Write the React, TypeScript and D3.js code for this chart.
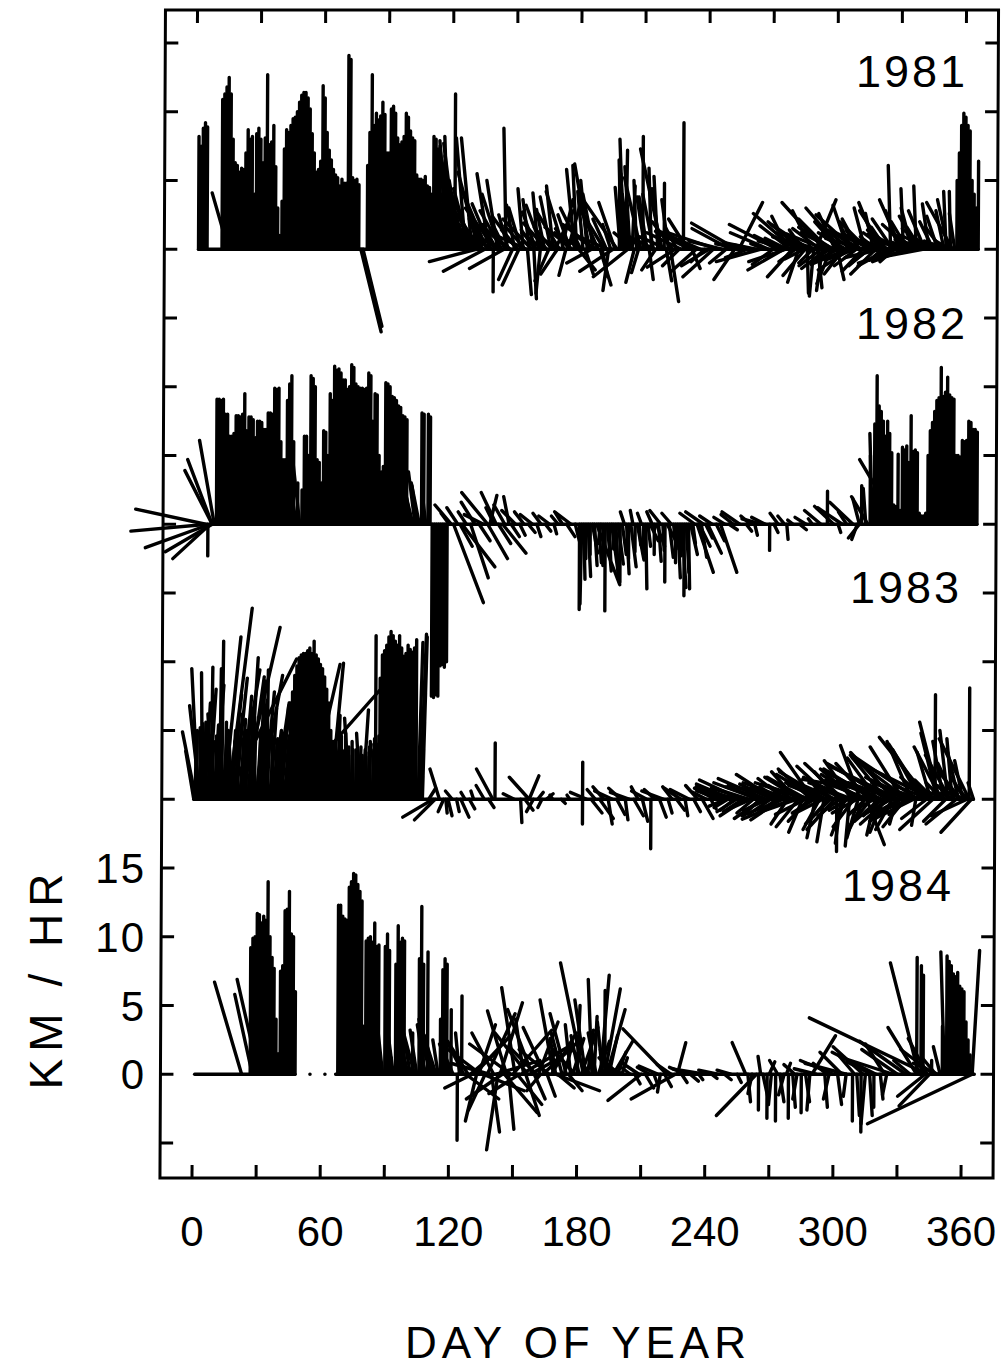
import React from 'react';
import * as d3 from 'd3';

type Stick = [number, number, number]; // [day of year, east km/hr, north km/hr]

const STICKS_1981: Stick[] = [
[1,0,8.2],[2,0,7.5],[3,0,8.8],[4,0,9.2],[5,0,8.9],
[12,0,10.9],[13,0,11.3],[14,0,11.8],[15,0,12.5],[15,-1.2,4.1],[16,0,11.3],[17,0,8.0],[18,0,6.3],[19,0,6.1],[20,0,5.6],[21,0,5.9],[22,0,5.8],[23,0,7.0],[24,0,8.7],[25,0,8.0],[26,0,8.2],[27,0,4.0],[28,0,8.4],[29,0,8.8],[30,0,8.0],[31,0,6.3],[32,0,8.1],[33,0,12.7],[34,0,7.6],[35,0,7.8],[36,0,9.0],[37,0,6.0],[38,0,3.0],[39,0,1.0],[40,0,3.5],[41,0,7.3],[42,0,8.7],[43,0,8.5],[44,0,9.0],[45,0,9.5],[46,0,9.6],[47,0,10.0],[48,0,10.7],[49,0,11.2],[50,0,11.4],[51,0,11.4],[52,0,11.0],[53,0,10.2],[54,0,8.4],[55,0,7.0],[56,0,5.6],[57,0,5.8],[58,0,6.4],[59,0,11.9],[60,0,11.0],[61,0,8.5],[62,0,7.2],[63,0,6.5],[64,0,5.8],[65,0,5.4],[66,0,5.2],[67,0,4.6],[68,0,5.1],[69,0,4.8],[70,0,4.8],[71,0,14.1],[72,0,13.8],[73,0,5.2],[74,0,5.0],[75,0,5.1],[76,0,4.7],[77,1.5,-6.0],[78,1.4,-5.6],
[80,0,6.1],[81,0,8.5],[82,0,12.7],[83,0,9.0],[84,0,9.9],[85,0,9.4],[86,0,9.7],[87,0,10.7],[88,0,9.8],[89,0,7.0],[90,0,7.0],[91,0,10.2],[92,0,10.4],[93,0,9.9],[94,0,8.1],[95,0,7.6],[96,0,7.8],[97,0,8.2],[98,0,9.9],[99,0,9.6],[100,0,8.6],[101,0,8.1],[102,0,7.9],[103,0,5.4],[104,0,5.1],[105,0,5.1],[106,0,5.0],[107,0,5.3],[108,0,4.6],[109,0,4.5],[110,0,4.0],[111,0,8.2],[112,0,8.0],[113,0,7.3],[114,0,7.1],
[115,-0.4,5.5],[116,-0.6,6.2],[117,-0.5,7.9],[118,-0.3,8.2],[119,-0.8,7.5],[120,-0.6,6.8],[121,0,11.3],[122,-1.0,7.7],[123,-1.3,6.5],[124,-0.9,5.0],[125,-1.6,6.0],[126,-0.7,8.1],[127,-1.9,5.2],[128,-1.2,4.4],[129,-0.8,8.1],[130,-2.0,4.8],[131,-3.4,-0.9],[132,-1.5,5.6],[133,-2.6,3.8],[134,-1.1,3.0],[135,-3.0,-1.6],[136,-1.8,4.2],[137,-0.9,5.5],[138,-1.4,3.3],[139,0,-3.1],[140,-2.2,3.0],[141,-0.8,5.0],[142,-1.3,4.0],[143,-1.6,2.8],[144,-2.5,-1.4],[145,-0.2,8.8],[146,-0.7,2.5],[147,-2.2,1.8],[148,-1.0,-2.2],[149,-0.6,3.2],[150,-1.8,2.4],[151,-1.2,-2.6],[152,-0.9,3.0],[153,-0.4,4.4],[154,-1.5,1.7],[155,0.3,-3.3],[156,-0.5,3.6],[157,-2.1,2.2],[158,0.2,-3.6],[159,-1.0,2.7],[160,-0.4,4.1],[161,-0.3,-3.2],[162,-1.2,3.2],[163,-0.6,2.9],[164,-1.7,1.9],[165,-1.0,-2.3],[166,-0.8,3.8],[167,-0.5,4.6],[168,1.3,2.8],[169,-1.2,-1.8],[170,-1.6,2.6],[171,0.8,3.6],[172,-1.3,4.2],[173,-0.5,-1.9],[174,1.0,3.8],[175,-0.9,2.5],[176,-2.0,1.6],[177,-0.6,5.8],[178,-0.3,6.1],[179,1.2,-1.5],[180,-1.5,3.0],[181,-0.4,4.2],[182,0.6,-1.8],[183,-0.5,5.0],[184,-1.1,6.2],[185,-1.8,-1.0],[186,-0.8,4.0],[187,-2.4,1.8],[188,-1.3,3.0],[189,0.8,-2.6],[190,0.4,-2.0],[191,-1.6,2.6],[192,-1.0,2.2],[193,-0.4,-3.0],[194,-0.6,1.8],[195,-2.4,-1.6],[196,-1.2,3.4],[197,-2.7,3.9],
[115.5,-0.5,3.6],[116.5,-0.8,4.2],[117.5,-0.4,3.0],[118.5,-1.0,4.8],[119.5,-0.6,3.4],[120.5,-0.9,4.0],[121.5,-1.1,3.2],[122.5,-0.7,2.6],[123.5,-1.4,3.8],[124.5,-0.5,2.4],[125.5,-1.2,3.0],[126.5,-0.8,2.2],[127.5,-1.5,2.8],[128.5,-0.6,2.0],[129.5,-1.8,2.6],[130.5,-1.0,1.8],[131.5,-1.4,2.4],[132.5,-2.0,1.6],[133.5,-0.9,2.2],[134.5,-1.6,1.4],[136.5,-1.2,2.0],[138.5,-2.0,1.2],[140.5,-1.0,1.8],[142.5,-1.8,1.0],[144.5,-0.8,1.6],[146.5,-1.5,1.2],[150.5,-1.2,1.4],[154.5,-2.2,1.0],[158.5,-1.0,1.4],[162.5,-1.6,1.2],[166.5,-1.3,1.6],[170.5,-1.8,1.0],[174.5,-1.0,1.5],[180.5,-2.0,1.2],[186.5,-1.4,1.0],[192.5,-1.8,0.8],
[198,0,5.8],[198.5,-0.4,4.5],[199,-0.2,6.5],[200,-0.3,8.0],[200.5,-0.3,5.5],[201,0.1,7.2],[202,-2.5,-2.0],[202.5,-0.5,4.0],[203,-0.4,6.0],[204,0.2,4.6],[204.5,-1.4,1.2],[205,-0.6,-2.4],[206,-0.2,5.0],[207,-0.5,-1.7],[208,-1.2,5.2],[208.5,-1.0,1.0],[209,0,8.2],[210,-0.6,3.8],[211,-0.6,3.8],[212,0.3,-2.2],[213,-0.2,5.9],[214,-0.8,4.0],[214.5,-1.6,0.8],[215,-1.0,-1.5],[216,-0.3,5.3],[217,-0.6,4.4],[218,-1.6,7.3],[219,0,4.8],[220,0.4,-2.3],[220.5,-2.0,0.9],[221,-0.5,3.6],[222,0.6,-3.8],[223,-1.5,2.0],[224,-2.0,-1.3],[225,-0.8,1.5],[226,-1.2,-1.2],[227,-2.5,1.2],[228,0,9.2],
[230,-1.4,2.2],[231,-2.5,1.3],[232,0.6,-1.4],[233,-1.6,0.8],[234,-1.8,-1.6],[236,-3.2,1.4],[238,-1.0,-0.9],[240,-2.0,-1.2],[242,-2.2,-2.0],[244,-3.6,1.2],[246,-2.4,0.6],[248,-1.2,-1.0],[250,-2.8,1.5],[252,-1.5,-2.2],[253,-3.3,1.9],[254,1.7,3.4],[256,-2.0,0.4],[258,-1.6,-0.6],[260,-1.2,0.3],[262,-2.4,0.5],[264,-3.2,-0.9],[266,-1.0,0.4],[268,-2.8,1.2],[270,-1.5,-1.1],[272,-3.5,1.8],[274,-2.0,1.0],[275,-2.6,-1.5],[276,-2.7,-0.9],[277,-1.2,2.4],[278,-2.2,1.7],[279,-1.8,-2.0],[280,-3.0,2.6],[281,-1.5,1.2],[282,-0.8,-2.4],[283,-2.4,2.0],[284,-1.0,1.4],[285,-1.6,-1.9],[286,0.1,-3.2],[287,-2.8,1.8],[288,-1.4,2.8],[289,-0.3,-3.4],[290,1.45,3.6],[291,0.3,-2.8],[292,-2.0,1.5],[293,-0.4,-3.0],[294,-3.1,3.4],[295,-1.8,-1.4],[296,-2.2,2.2],[297,-1.0,-2.5],[298,-2.5,1.6],[299,-1.2,2.6],[300,0.5,-2.2],[301,-1.8,2.0],[302,-2.6,3.0],[303,-1.4,-1.8],[304,-2.0,1.2],[305,-1.1,3.2],[306,-2.3,-1.5],[307,-0.9,1.8],[308,-2.8,2.5],[309,-1.6,-1.2],[310,-1.2,2.2],[311,-2.4,1.4],[312,-1.5,-1.6],[313,-0.8,3.0],[314,-2.0,2.0],[315,-1.3,-1.0],[316,-2.6,1.2],[317,-0.6,2.6],[318,-1.8,-1.8],[319,-1.4,3.4],[320,-2.4,1.0],[321,-0.9,-0.8],[322,-1.8,2.8],[323,-1.1,1.6],[324,-2.2,-1.2],[325,-0.2,6.1],[326,-1.5,2.2],[327,-2.0,1.4],[328,-2.8,-1.0],[329,-1.0,2.8],[330,-1.6,3.6],[331,-0.2,4.4],[332,-2.4,-0.9],[333,-1.2,2.0],[334,-2.0,1.8],[335,-0.8,3.0],[336,-3.0,-0.7],[337,-0.2,4.6],[338,-1.4,2.4],[339,-1.0,1.6],[340,-2.6,-0.5],[341,-1.2,2.8],[342,-1.8,1.5],[343,-0.5,3.3],[344,-2.2,1.0],[345,-1.0,2.0],[346,-1.5,0.8],[347,-0.8,2.4],[348,-2.0,0.6],[349,-1.2,1.6],[350,-0.6,2.8],[351,-0.2,4.2],[352,-0.8,3.6],[353,-0.1,4.2],[354,-1.9,3.4],[355,-0.4,2.6],
[276.5,-1.6,0.8],[278.5,-2.4,0.6],[280.5,-1.2,-0.9],[282.5,-2.0,1.0],[284.5,-1.4,-0.7],[286.5,-2.6,0.9],[288.5,-1.0,-1.0],[290.5,-2.2,0.7],[292.5,-1.6,-1.2],[294.5,-2.8,1.1],[296.5,-1.2,-0.8],[298.5,-2.4,1.2],[300.5,-1.8,-0.9],[302.5,-1.4,1.0],[304.5,-2.6,-1.1],[306.5,-1.6,1.2],[308.5,-2.2,-0.8],[310.5,-1.0,1.4],[312.5,-2.8,0.8],[314.5,-1.4,-1.2],[316.5,-2.0,1.0],[318.5,-1.2,0.9],[320.5,-2.6,-0.6],[322.5,-1.6,1.2],[324.5,-2.4,0.7],[326.5,-1.0,-0.9],[328.5,-2.2,1.1],[330.5,-1.8,0.8],[332.5,-1.2,1.3],[334.5,-2.6,0.6],[336.5,-1.4,1.0],[338.5,-2.0,0.5],[340.5,-1.2,1.1],[342.5,-2.4,0.7],[344.5,-1.6,0.5],[346.5,-2.8,0.4],[348.5,-1.2,0.6],[350.5,-2.0,0.3],[352.5,-1.0,0.6],[354.5,-1.6,0.4],
[356,0,5.0],[357,0,7.0],[358,0,9.0],[359,0,9.9],[360,0,9.6],[361,0,9.0],[362,0,8.6],[363,0,5.0],[364,0,4.0],[365,0,3.0],[366,0,6.4]
];

const STICKS_1982: Stick[] = [
[5,-5.1,1.1],[6,-5.6,-0.5],[6,0,-2.3],[7,-4.7,-1.7],[7,-2.7,-2.5],[8,-3.4,-2.0],[8,-2.0,3.9],[8,-1.8,4.7],[9,-1.1,6.1],
[10,0,9.1],[11,0,9.1],[12,0,9.0],[13,0,9.1],[14,0,8.0],[15,0,8.0],[16,0,6.4],[17,0,6.4],[18,0,6.6],[19,0,7.9],[20,0,7.9],[21,0,7.8],[22,0,8.0],[23,0,9.5],[24,0,6.8],[25,0,7.8],[26,0,7.8],[27,0,7.6],[28,0,6.3],[29,0,7.5],[30,0,7.5],[31,0,7.4],[32,0,6.9],[33,0,6.9],[34,0,8.1],[35,0,8.1],[36,0,8.0],[37,0,9.9],[38,0,9.8],[39,0,9.9],[40,0,6.0],[41,0,4.7],[42,0,4.7],[43,0,9.0],[44,0,10.2],[45,0,10.8],[46,0,6.0],[47,-0.4,4.2],[48,0,3.0],[49,-0.5,4.4],[50,0,2.5],[51,0,6.4],[52,0,6.4],[53,0,5.0],[54,0,10.8],[55,0,10.6],[56,0,10.0],[57,0,4.7],[58,0,4.5],[59,0,3.0],[60,0,6.8],[61,0,6.7],[62,0,5.0],[63,0,9.5],[64,0,9.0],[65,0,11.5],[66,0,11.2],[67,0,11.3],[68,0,11.0],[69,0,10.5],[70,0,10.5],[71,0,9.8],[72,0,10.0],[73,0,11.6],[74,0,11.4],[75,0,10.2],[76,0,10.0],[77,0,9.9],[78,0,9.9],[79,0,9.8],[80,0,9.9],[81,0,11.0],[82,0,10.8],[83,0,7.5],[84,0,9.5],[85,0,9.4],[86,0,5.0],[87,0,3.8],[88,0,4.2],[89,0,10.3],[90,0,10.2],[91,0,10.0],[92,0,9.3],[93,0,9.2],[94,0,9.0],[95,0,8.6],[96,0,8.5],[97,0,7.9],[98,0,7.8],[99,0,7.6],[100,-0.5,3.5],[101,-0.6,3.6],[102,-0.8,3.2],[103,-0.5,3.8],[104,-0.4,2.8],[105,-0.6,3.0],[106,0,8.1],[107,0,8.0],[108,-0.3,2.5],[109,0,8.0],[110,0,7.8],
[111,0,-12.5],[112,0,-12.6],[113,0,-12.4],[114,0,-12.5],[115,0,-10.3],[116,0,-10.2],[117,0,-10.4],[118,0,-10.0],[119,-0.6,0.8],
[120,-1.2,1.4],[121,2.2,-5.7],[123,-0.8,1.2],[124,0.9,-1.6],[125,2.4,-3.1],[127,-0.6,0.9],[129,1.3,-3.9],[131,-1.0,1.6],[133,0.8,-1.2],[135,-1.4,0.7],[137,-1.9,2.3],[137,1.45,-2.5],[138,0.5,2.1],[140,-0.6,1.2],[141,-1.1,2.3],[142,0.9,-1.4],[144,1.7,-2.1],[145,-0.8,1.4],[147,-0.4,2.0],[148,0.6,-0.9],[150,-1.0,1.0],[152,0.4,-0.8],[154,-0.7,0.9],[156,0.5,-0.6],[158,-0.9,0.7],[160,0.3,-0.9],[162,-0.6,0.8],[164,0.4,-0.5],[166,-0.8,0.6],[168,0.2,-0.7],[170,-0.5,0.6],
[172,-0.5,0.8],[174,0.6,-0.9],[176,-1.2,0.9],[178,0.3,-1.2],[180,0,-6.2],[181,-0.1,-5.8],[182,0.1,-4.0],[183,0,-2.5],[184,0.2,-3.8],[185,0,-2.2],[186,0.4,-2.1],[187,0.2,-3.0],[188,1.7,-4.4],[189,0.2,-2.8],[190,-0.2,-1.4],[191,0,-3.0],[192,0,-6.3],[193,0.3,-3.4],[194,0.1,-2.6],[195,0.6,-4.3],[196,0,-1.8],[197,0.2,-3.9],[198,0.4,-2.9],[199,0,-4.2],[200,0.3,-2.2],[201,-0.3,0.9],[202,0.2,-3.6],[203,0,-2.5],[204,0.4,-3.1],[205,-0.2,1.0],[206,0,-2.0],[207,0.5,-2.6],[208,0.1,-1.5],[209,-0.3,0.8],[210,0,-2.2],[211,0.1,-4.7],[212,0.2,-1.6],[213,0.6,-1.2],[214,-0.4,0.9],[215,0,-2.2],[216,0.6,-1.6],[217,0.2,-2.7],[218,-0.8,1.0],[219,0.1,-1.9],[220,0,-4.2],[221,0.9,-1.7],[222,0.3,-2.4],[223,-0.7,0.8],[224,0.2,-1.8],[225,0,-2.8],[226,0.2,-3.9],[227,0.1,-2.3],[228,0.3,-4.6],[229,0,-5.2],[230,0.2,-3.5],[231,0.1,-4.7],[232,0.5,-2.2],[233,0.2,-1.4],[234,-1.1,0.8],[235,1.2,-3.5],[236,0.8,-1.6],[237,0.4,-2.4],[238,-1.3,0.9],[239,0.5,-1.0],[240,1.0,-2.1],[242,-0.9,0.6],[244,0.6,-1.2],[246,1.2,-3.5],
[248,-0.8,0.5],[250,0.6,-0.4],[252,-0.9,0.7],[255,-1.3,0.9],[258,0.4,-0.5],[260,-0.7,0.6],[262,0.2,-0.8],[265,-1.4,0.4],[267,-1.0,0.5],[269,0,-1.9],[271,0.3,-0.6],[273,-0.6,0.8],[276,-0.5,0.6],[277,0.1,-1.1],[280,-0.4,0.3],[283,0.5,-0.4],[286,-0.8,0.5],[289,-0.3,0.4],[293,-1.2,1.0],[296,0,2.4],[299,-1.4,1.3],[301,0.2,-0.6],[303,-1.8,1.2],[305,-0.6,0.9],[308,-1.7,1.6],[310,-0.4,-1.1],[311,-0.5,1.9],[311,-0.8,-1.0],[312,0,2.8],[314,-0.2,2.6],[315,-1.2,2.0],
[316,0,5.0],[317,-0.2,6.6],[318,0,7.3],[319,0,10.8],[320,0,8.6],[321,0,8.2],[322,0,7.5],[323,0,6.4],[324,0,7.5],[325,0,6.6],[326,0,5.2],[327,0,1.4],[328,0,1.3],[329,0,5.1],[329,-2.8,4.7],[330,0,1.0],[331,0,5.6],[332,0,5.4],[333,0,5.7],[334,0,4.5],[335,0,7.9],[336,0,5.3],[337,0,5.4],[338,0,5.2],[339,0,0.8],[340,0,0.6],[341,0,0.6],[342,0,0.8],[343,0,5.0],[344,0,6.8],[345,0,7.4],[346,0,8.2],[347,0,9.0],[348,0,9.2],[349,0,11.4],[350,0,9.3],[351,0,9.6],[352,0,10.7],[353,0,9.4],[354,0,9.2],[355,0,9.1],[356,0,5.0],[357,0,5.0],[358,0,4.9],[359,0,6.1],[360,0,6.0],[361,0,6.1],[362,0,7.5],[363,0,7.4],[364,0,6.9],[365,0,6.9],[366,0,6.7]
];

const STICKS_1983: Stick[] = [
[0,-0.6,3.5],[1,-1.0,4.9],[2,-0.5,9.5],[3,-0.8,6.8],[4,-0.1,9.2],[5,0.4,7.0],[6,-0.3,5.5],[7,0.5,8.0],[8,0.1,9.6],[9,-0.4,6.2],[10,0.6,8.3],[11,0.2,5.0],[12,0.1,9.5],[13,0.1,11.5],[14,1.2,11.8],[15,5.1,10.2],[16,1.7,13.9],[17,0.8,7.6],[18,-0.3,5.0],[19,0.9,8.8],[20,0.4,6.2],[21,1.5,9.4],[22,2.8,12.5],[23,0.6,7.5],[24,0.3,5.8],[25,1.2,8.9],[26,0.6,10.3],[27,0.2,6.0],[28,-0.4,4.2],[29,0.8,7.2],[30,0.5,8.6],[31,1.6,9.0],[32,0.3,6.4],[33,0.7,7.8],[34,0.1,9.4],[35,2.2,8.4],[36,0.4,6.6],[37,0.6,5.0],[38,1.0,7.0],[39,0.2,4.4],[40,3.0,8.5],[41,0.5,6.8],[42,7.2,8.2],[43,0.4,5.6],[44,0.8,6.2],
[0.5,0.1,4.2],[1.5,0,5.0],[2.5,0.2,4.4],[3.5,-0.1,5.2],[4.5,0.1,4.0],[5.5,0,5.6],[6.5,0.2,4.6],[7.5,-0.2,5.0],[8.5,0.1,4.2],[9.5,0.3,5.4],[10.5,0,4.6],[11.5,0.2,4.0],[12.5,0,5.2],[13.5,0.3,4.4],[14.5,0.1,5.6],[15.5,0.2,4.8],[16.5,0,4.0],[17.5,0.3,5.0],[18.5,0.1,4.2],[19.5,0.2,5.4],[20.5,0,4.6],[21.5,0.4,5.8],[22.5,0.1,4.4],[23.5,0.2,5.0],[24.5,0,4.0],[25.5,0.3,5.6],[26.5,0.1,4.8],[27.5,0.2,4.2],[28.5,0,3.8],[29.5,0.3,5.0],[30.5,0.1,4.6],[31.5,0.2,5.2],[32.5,0,4.4],[33.5,0.2,5.0],[34.5,0.1,4.8],[35.5,0.3,4.2],[36.5,0,4.6],[37.5,0.2,3.8],[38.5,0.1,4.4],[39.5,0.3,3.6],[40.5,0.2,4.8],[41.5,0,4.2],[42.5,0.3,4.6],[43.5,0.1,3.8],[44.5,0.2,5.0],
[45,0,7.0],[46,0,7.8],[47,0,9.0],[48,0,9.7],[49,0,10.3],[50,0,10.5],[51,0,10.6],[52,0,10.6],[53,0,10.8],[54,0,11.0],[54,2.2,9.8],[55,0,10.6],[56,0,11.5],[57,0,10.5],[58,0,10.2],[59,0,9.8],[60,0,9.5],[61,0,8.9],[62,0,8.0],[63,0,7.0],[64,0,5.0],[64,0.9,9.9],
[66,0,4.0],[67,0.2,6.1],[68,-0.2,3.0],[69,0,4.6],[70,0.3,3.2],[71,0,4.8],[72,-0.3,3.5],[73,-0.4,5.9],[74,0,4.2],[75,0.5,2.8],[76,0,3.6],[77,0.2,2.6],[78,-0.3,4.8],[79,0.4,6.5],[80,0,3.2],[81,0.3,4.0],[82,0,3.1],[83,0.8,5.2],[84,0.2,3.4],[85,0,11.9],[86,0.3,4.4],[87,0,8.8],[88,0,10.5],
[64.5,0.1,3.8],[65,0,4.2],[65.5,0.1,3.6],[66.5,0,3.4],[67.5,0.1,3.8],[68.5,0,3.2],[69.5,0.2,3.6],[70.5,0,3.0],[71.5,0.1,3.4],[72.5,0,3.8],[73.5,0.1,3.2],[74.5,0,3.6],[75.5,0.1,3.0],[76.5,0,3.4],[77.5,0.1,3.8],[78.5,0,3.2],[79.5,0.1,3.6],[80.5,0,3.4],[81.5,0.1,3.8],[82.5,0,4.2],[83.5,0.1,3.6],[84.5,0,4.4],[85.5,0.1,4.0],[86.5,0,4.6],[87.5,0,5.2],
[89,0,10.8],[90,0,11.2],[91,0,11.8],[92,0,12.2],[93,0,11.9],[94,0,11.5],[95,0,11.2],[96,0,11.9],[97,0,11.0],[98,0,10.4],[99,0,10.6],[100,0,11.2],[101,0,10.9],[102,0,10.7],[103,0,11.0],[104,0,11.6],[105,0.3,11.4],[106,0.4,12.0],[107,0.3,11.8],
[110,0.5,0.8],[112,-2.2,-1.3],[113,-1.5,-1.5],[115,-0.7,2.2],[117,-0.4,-0.9],[118,0.1,-1.0],[119,0.3,-1.2],[121,-0.5,0.6],[123,0.2,-0.9],[125,0.6,-1.3],[127,-0.3,0.5],[129,0.4,-0.7],[131,-0.2,0.6],[136,-0.6,1.0],[138,0.4,-0.6],[140,-1.2,2.2],[141,0,4.1],[150,-0.8,0.4],[153,0.1,-1.7],[155,0.6,-0.8],[157,-1.45,1.6],[157,0.7,1.7],[159,-0.5,-0.9],[161,0.4,0.5],[163,-0.3,-0.6],[165,0.5,0.4],[168,-0.2,0.3],[172,0.3,-0.3],[176,-0.2,0.3],
[182,0,2.7],[182,0,-1.8],[184,-1.2,0.5],[186,0.8,-1.0],[188,-0.6,0.7],[190,1.0,-1.4],[192,-0.8,0.9],[194,0.3,-1.8],[196,-1.3,0.6],[198,0.6,-1.1],[200,-0.9,0.8],[202,0.2,-1.5],[204,-1.4,0.5],[206,0.7,-1.2],[208,-0.5,0.9],[210,0.4,-1.6],[212,-1.1,0.6],[214,0,-3.6],[216,-0.8,0.7],[218,0.5,-1.3],[220,-1.6,0.6],[222,0.3,-1.0],[224,-0.7,0.9],[226,0.6,-0.8],[228,-1.2,0.8],[230,0.2,-1.2],[232,-1.4,0.7],[234,0.5,-0.9],[236,-0.9,1.0],[238,0.8,-1.4],[240,-1.0,0.5],[242,0.4,-0.7],[244,-1.5,0.8],
[246,-1.2,0.5],[248,-2.0,0.9],[250,-1.0,-0.6],[252,-2.6,1.1],[254,-1.4,-0.9],[256,-3.0,1.4],[258,-1.8,-1.2],[260,-2.5,0.8],[262,-1.2,-1.0],[264,-3.2,1.2],[266,-2.0,-1.4],[268,-3.5,1.5],[270,-1.6,-1.1],[272,-2.8,1.8],[274,-1.4,0.9],[275,-2.2,-1.5],[276,-3.0,-1.2],[277,-2.0,1.5],[278,-1.2,-1.8],[279,-3.4,1.2],[280,-3.6,-1.45],[281,-4.1,0.85],[282,-1.8,2.0],[283,-1.6,-2.0],[284,-2.6,1.6],[285,-1.0,-2.4],[286,-3.6,1.2],[287,-2.9,1.6],[288,-1.5,-1.6],[289,-2.4,2.2],[290,-2.4,3.4],[291,-0.6,-2.8],[292,-3.0,1.8],[293,-1.2,-2.2],[294,-2.2,1.4],[295,-0.5,-3.1],[296,-3.4,2.0],[297,-1.4,-1.6],[298,-1.8,-1.8],[299,-2.6,2.4],[300,-2.0,-2.2],[301,0,-3.8],[302,-1.8,2.0],[303,-0.4,-3.2],[304,-2.8,2.6],[305,-1.0,-2.6],[306,-3.2,1.6],[307,-0.3,-3.4],[308,-2.0,2.8],[309,-1.5,-2.0],[310,-2.6,2.2],[311,-0.8,-2.8],[312,-1.45,3.9],[313,-3.0,1.8],[314,-1.2,-2.4],[315,1.3,-3.3],[316,-2.4,2.6],[317,-1.6,-2.0],[318,-3.6,2.2],[319,-0.6,-2.6],[320,-2.2,3.0],[321,-1.8,-1.6],[322,-4.2,2.0],[323,-1.0,-2.4],[324,-2.6,3.2],[325,-2.0,-1.8],[326,-4.6,2.6],[327,-1.2,-2.2],[328,-3.2,3.4],[329,-0.5,-1.8],[330,-5.0,2.4],[331,-2.2,-1.5],[332,-2.4,3.8],[333,-1.6,-2.0],[334,-4.0,3.0],[335,-2.8,-1.2],[336,-1.8,4.2],[337,-3.2,-1.6],[338,-0.3,-1.9],[339,-4.8,3.2],[340,-2.0,3.6],[341,-8.7,1.45],[342,-2.6,4.0],[343,-1.8,-1.4],[344,-3.6,4.5],[345,-1.0,3.4],[346,-5.1,2.5],[346,-2.4,-2.2],[347,0,7.6],[348,-1.2,4.8],[349,-1.45,5.6],[350,-2.0,3.8],[351,-0.8,4.2],[352,-1.6,-1.6],[353,-0.6,5.0],[354,-1.8,3.2],[355,-0.4,4.4],[356,-1.2,2.6],[357,-2.2,-1.8],[358,-0.8,3.4],[359,-1.6,2.0],[360,-0.6,2.8],[361,-1.0,1.6],[362,-2.6,-1.2],[363,0,8.1],[363,-2.2,4.4],[364,-2.2,-2.4],[365,-0.4,1.2],
[247,-1.8,0.6],[249,-1.2,-0.5],[251,-2.2,0.7],[253,-1.0,-0.8],[255,-2.4,0.6],[257,-1.4,-0.9],[259,-2.6,0.8],[261,-1.6,-0.7],[263,-2.0,1.0],[265,-1.2,-1.2],[267,-2.8,0.9],[269,-1.8,-0.8],[271,-2.4,1.1],[273,-1.4,-1.0],[276.5,-2.4,0.9],[278.5,-2.8,0.7],[280.5,-1.8,1.0],[282.5,-2.6,-0.9],[284.5,-1.4,0.8],[286.5,-2.2,-1.1],[288.5,-3.0,0.9],[290.5,-1.6,-1.0],[292.5,-2.4,1.2],[294.5,-1.8,-0.9],[296.5,-2.8,1.0],[298.5,-1.2,0.8],[300.5,-2.6,1.1],[302.5,-1.6,-1.2],[304.5,-2.2,1.0],[306.5,-1.4,-0.8],[308.5,-3.2,1.2],[310.5,-1.8,-1.0],[312.5,-2.6,1.4],[314.5,-1.2,-1.1],[316.5,-2.8,1.0],[318.5,-1.6,-0.9],[320.5,-3.0,1.3],[322.5,-1.4,-1.2],[324.5,-2.4,1.5],[326.5,-1.8,-1.0],[328.5,-3.4,1.2],[330.5,-1.6,-0.9],[332.5,-2.8,1.6],[334.5,-1.4,-1.1],[336.5,-3.0,1.4],[338.5,-2.2,0.8],[340.5,-3.6,1.2],[342.5,-1.8,1.6],[344.5,-2.6,1.0],[346.5,-1.4,1.4],[348.5,-2.2,0.9],[350.5,-1.2,1.2],[352.5,-1.8,0.7],[354.5,-1.0,1.0],[356.5,-1.6,0.6],[358.5,-0.8,0.9],[360.5,-1.2,0.5],[362.5,-0.6,0.6]
];

const STICKS_1984: Stick[] = [
[23,-2.0,6.7],[28,-1.3,5.8],[31,-1.6,6.9],
[27,0,9.2],[28,0,9.9],[29,0,10.0],[30,0,11.7],[31,0,11.6],[32,0,11.0],[33,0,11.5],[34,0,11.2],[35,0,14.0],[36,0,10.0],[37,0,8.5],[38,0,7.7],[39,0,4.0],[40,0,1.5],[41,0,7.5],[42,0,7.9],[43,0,11.9],[44,0,12.0],[45,0,13.3],[46,0,10.2],[47,0,10.0],[48,0,6.0],
[68,0,12.3],[69,0,12.3],[70,0,11.5],[71,0,11.3],[72,0,11.2],[73,0,13.6],[74,0,14.0],[75,0,14.6],[76,0,14.5],[77,0,13.8],[78,0,13.3],[79,0,12.6],[80,0,3.5],[81,0,9.7],[82,0,9.9],[83,0,10.0],[84,0,9.6],[85,0,11.0],[86,0,9.3],[87,0,9.4],[88,-0.3,3.0],[89,-0.5,4.5],[90,0,9.3],[91,0,10.2],[92,0,9.0],[93,0,1.2],[94,-0.4,3.0],[95,0,8.0],[96,0,10.8],[97,0,9.6],[98,0,9.9],[99,0,9.7],[100,-0.6,4.2],[101,-0.9,3.6],[102,-0.7,4.0],[103,0,3.0],[104,-1.2,4.4],[105,-0.5,3.2],[106,0,8.4],[107,0,12.2],[108,0,8.0],[109,-0.6,3.6],[110,0,8.9],[111,-0.8,4.0],[112,-1.0,3.5],[113,-0.7,2.8],[114,-1.2,3.8],[115,-0.4,2.5],[116,0,4.0],[117,0,7.6],[118,0,8.4],[119,0,8.0],[120,-0.5,3.2],[121,0,4.7],[122,-1.0,2.2],[124,0,-4.8],[125,-0.3,3.0],[126,0,5.7],[127,-1.3,2.5],
[128,2.4,-1.8],[129,-1.5,2.4],[130,1.8,1.5],[131,-2.0,-1.0],[132,2.6,2.8],[133,-0.8,-3.4],[134,1.2,3.6],[135,-2.4,1.8],[136,3.0,-1.2],[137,-1.2,-2.6],[138,2.0,4.4],[139,-2.8,0.8],[140,0.6,-4.2],[141,-1.6,3.0],[142,3.2,1.0],[143,-0.8,-5.5],[144,1.6,5.2],[145,-2.6,-1.8],[146,2.4,-2.8],[147,-1.4,4.6],[148,0.4,-4.0],[149,-3.0,2.2],[150,2.8,3.2],[151,-1.0,6.3],[152,1.8,-2.2],[153,-2.2,-1.4],[154,3.4,2.0],[155,-0.6,4.0],[156,1.0,-3.0],[157,-2.4,3.0],[158,2.2,1.2],[159,-1.8,4.7],[160,0.8,-1.8],[161,-2.0,2.0],[162,1.4,3.8],[163,-1.0,-1.2],[164,2.6,2.4],[165,-1.6,3.4],[166,0.6,-1.6],[167,-2.2,1.8],[168,1.8,3.0],[169,-1.0,5.4],[170,-0.4,2.6],[170,3.2,-1.2],[171,1.2,-1.0],
[173,-0.8,3.0],[174,0.6,2.2],[175,-1.2,4.4],[176,1.0,-1.2],[177,-0.4,3.6],[178,0.8,2.6],[179,-1.6,1.8],[180,0.2,5.0],[181,-0.6,2.8],[182,1.2,3.4],[183,-1.7,8.1],[184,-0.8,5.4],[185,0.4,3.2],[186,-1.4,2.0],[187,-0.3,6.9],[188,0.2,4.2],[189,-0.6,3.0],[190,0.8,2.4],[191,0.6,7.2],[192,-0.4,3.8],[193,1.1,6.2],[193,0,6.1],[194,1.3,4.7],[195,0.6,2.8],[196,-0.8,1.8],[197,1.4,2.4],[198,-1.2,1.2],[199,0.6,1.6],[200,-1.0,0.8],[201,0.4,1.2],[202,-1.5,0.6],
[205,-0.8,0.6],[207,0.4,-0.7],[209,-1.2,0.8],[210,-2.4,-1.9],[212,0.6,-1.0],[214,-0.9,0.5],[216,0.3,-0.8],[218,-1.4,0.6],[219,-0.2,-1.3],[221,0.5,-0.9],[222,-3.2,3.3],[224,-1.0,0.7],[226,-3.2,-1.8],[227,0.6,2.3],[229,0.4,-0.6],[231,-1.2,0.5],[233,0.6,-0.5],[235,-1.6,0.4],[237,0.3,-0.4],[240,-1.8,0.3],[243,0.4,-0.3],[246,-1.4,0.3],[249,0.5,-0.4],[252,-1.0,0.3],[255,0.3,-0.6],
[259,-1.0,2.3],[264,-2.9,-3.0],[260,0.2,-2.0],[262,-0.3,-1.4],[265,0,-2.6],[267,0.4,-1.8],[269,0,-3.2],[271,-0.2,-2.2],[273,0,-3.4],[275,0.3,-2.0],[277,-0.4,-1.5],[279,0,-3.2],[281,0.2,-2.4],[283,-0.3,-1.8],[285,0,-2.8],[287,0.3,-2.0],[289,-0.2,-2.6],[266,-0.2,1.3],[270,0.4,0.9],[274,-0.6,1.0],[278,0.3,0.8],[282,-0.8,0.7],
[290,1.7,2.8],[292,-1.6,0.4],[297,-1.0,0.8],[300,-2.4,1.0],[304,-1.6,1.6],[306,-3.0,0.8],[310,-1.2,1.4],[314,-2.2,2.0],[318,-1.8,0.9],[320,-3.2,1.6],[324,-1.4,2.2],[328,-3.7,1.2],[330,-2.6,1.8],[334,-3.4,2.4],[336,-1.2,1.0],
[296,0.2,-2.4],[298,-0.4,-1.8],[302,0.3,-2.2],[306,-0.2,-1.6],[309,0,-3.4],[311,0.2,-3.0],[313,0,-4.2],[315,-0.3,-3.6],[317,0.2,-3.0],[319,0,-2.4],[322,0.2,-1.8],[325,-0.3,-1.5],
[339,-2.1,3.4],[339,0,8.5],[340,-2.1,8.1],[341,0,7.9],[342,0,7.2],[343,-2.0,-1.6],[344,-8.6,4.1],[344,-1.4,2.6],[345,-2.2,-2.3],[346,0,1.0],[347,-2.4,1.8],[348,-1.0,1.2],[349,-1.8,0.8],
[350,-0.5,2.0],[351,0,3.5],[352,-0.3,8.9],[353,0,8.6],[354,0,8.2],[355,0,7.9],[356,0,7.3],[357,0,7.1],[358,0,7.4],[359,0,6.4],[360,0,6.2],[361,0,6.0],[362,0,3.8],[363,0,2.5],[364,0,1.4],[365,0.5,9.0],[365,-7.6,-3.6]
];

const YEARS = ['1981', '1982', '1983', '1984'];
const YEAR_SERIES: Stick[][] = [STICKS_1981, STICKS_1982, STICKS_1983, STICKS_1984];
// baseline of each year on the shared km/hr axis
const YEAR_OFFSETS = [60, 40, 20, 0];
// [first day, last day] of each drawn zero line
const BASELINES: [number, number][][] = [[[1, 366]], [[7, 366]], [[0, 365]], [[1, 48], [67, 366]]];
const DOTS_1984 = [55, 62];
const X_TICKS = d3.range(0, 361, 30);
const X_LABELS = [0, 60, 120, 180, 240, 300, 360];
const Y_TICKS = d3.range(-5, 76, 5);
const Y_LABELS = [0, 5, 10, 15];

const W = 1003;
const H = 1371;
const FONT = "'Liberation Sans', Arial, sans-serif";

export default function App() {
  const x = d3.scaleLinear().domain([0, 360]).range([192, 961]);
  const y = d3.scaleLinear().domain([-5, 75]).range([1143, 43]);
  const k = y(0) - y(1); // px per km/hr
  const left = x(-15);
  const right = x(375);
  const top = 10;
  const bottom = 1178;
  const tick = 13;
  const sw = 3;
  const stickW = 3.4;

  const yearLabelPos = [
    { xr: 968, yb: 87 },
    { xr: 968, yb: 339 },
    { xr: 962, yb: 603 },
    { xr: 954, yb: 901 },
  ];

  return (
    <svg width={W} height={H} style={{ position: 'absolute', left: 0, top: 0, background: '#fff' }}>
      <rect x={0} y={0} width={W} height={H} fill="#fff" />
      <g transform={`translate(0,${bottom}) skewX(-0.27) translate(0,${-bottom})`}>
        <rect x={left} y={top} width={right - left} height={bottom - top} fill="none" stroke="#000" strokeWidth={sw} />
        {X_TICKS.map((t) => (
          <g key={'xt' + t}>
            <line x1={x(t)} x2={x(t)} y1={bottom} y2={bottom - tick} stroke="#000" strokeWidth={sw} />
            <line x1={x(t)} x2={x(t)} y1={top} y2={top + tick} stroke="#000" strokeWidth={sw} />
          </g>
        ))}
        {Y_TICKS.map((t) => (
          <g key={'yt' + t}>
            <line x1={left} x2={left + tick} y1={y(t)} y2={y(t)} stroke="#000" strokeWidth={sw} />
            <line x1={right} x2={right - tick} y1={y(t)} y2={y(t)} stroke="#000" strokeWidth={sw} />
          </g>
        ))}
        {BASELINES.map((segs, i) =>
          segs.map(([a, b], j) => (
            <line key={'b' + i + '-' + j} x1={x(a)} x2={x(b)} y1={y(YEAR_OFFSETS[i])} y2={y(YEAR_OFFSETS[i])}
              stroke="#000" strokeWidth={stickW} strokeLinecap="round" />
          ))
        )}
        {DOTS_1984.map((d) => (
          <circle key={'dot' + d} cx={x(d)} cy={y(YEAR_OFFSETS[3])} r={1.8} fill="#000" />
        ))}
        {YEAR_SERIES.map((series, i) => (
          <g key={'s' + i} stroke="#000" strokeWidth={stickW} strokeLinecap="round">
            {series.map(([d, u, v], j) => (
              <line key={j} x1={x(d)} y1={y(YEAR_OFFSETS[i])} x2={x(d) + u * k} y2={y(YEAR_OFFSETS[i] + v)} />
            ))}
          </g>
        ))}
      </g>
      {YEARS.map((yr, i) => (
        <text key={yr} x={yearLabelPos[i].xr} y={yearLabelPos[i].yb} textAnchor="end" fontFamily={FONT}
          fontSize={45} letterSpacing={3}>{yr}</text>
      ))}
      {X_LABELS.map((t) => (
        <text key={'xl' + t} x={x(t)} y={1246} textAnchor="middle" fontFamily={FONT} fontSize={42}>{t}</text>
      ))}
      {Y_LABELS.map((t) => (
        <text key={'yl' + t} x={146} y={y(t) + 15} textAnchor="end" fontFamily={FONT} fontSize={42} letterSpacing={2}>{t}</text>
      ))}
      <text x={578} y={1358} textAnchor="middle" fontFamily={FONT} fontSize={44} letterSpacing={5}>DAY OF YEAR</text>
      <text transform="translate(62,978) rotate(-90)" textAnchor="middle" fontFamily={FONT} fontSize={46} letterSpacing={7}>KM / HR</text>
    </svg>
  );
}
